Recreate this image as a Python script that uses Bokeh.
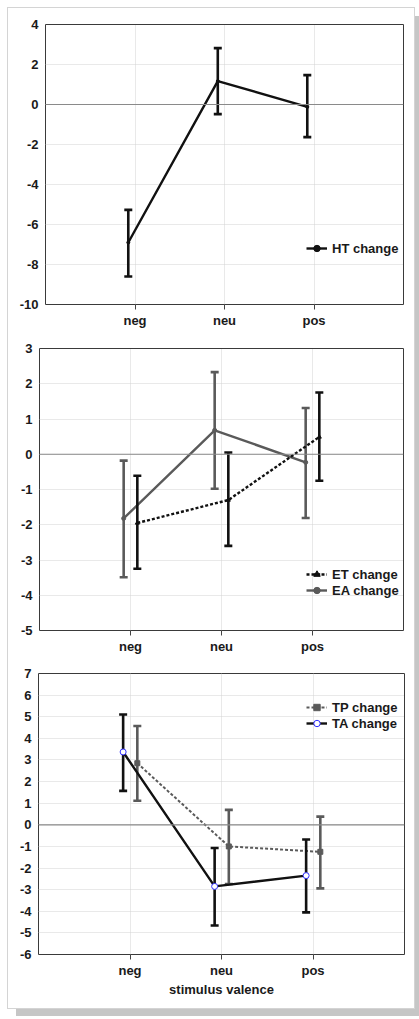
import numpy as np
from bokeh.plotting import figure
from bokeh.models import FixedTicker, Span, Legend, LegendItem
from bokeh.layouts import column
from bokeh.embed import file_html
from bokeh.resources import INLINE

categories = ["neg", "neu", "pos"]

ht_mean = [-6.9, 1.17, -0.12]
ht_low = [-8.6, -0.48, -1.63]
ht_high = [-5.27, 2.82, 1.47]

et_mean = [-1.95, -1.3, 0.49]
et_low = [-3.25, -2.6, -0.75]
et_high = [-0.61, 0.05, 1.75]
ea_mean = [-1.82, 0.68, -0.23]
ea_low = [-3.49, -0.98, -1.81]
ea_high = [-0.18, 2.33, 1.31]

ta_mean = [3.37, -2.85, -2.35]
ta_low = [1.57, -4.66, -4.05]
ta_high = [5.1, -1.07, -0.68]
tp_mean = [2.85, -1.0, -1.25]
tp_low = [1.11, -2.74, -2.94]
tp_high = [4.57, 0.69, 0.38]

y_ticks_1 = [4, 2, 0, -2, -4, -6, -8, -10]
y_ticks_2 = [3, 2, 1, 0, -1, -2, -3, -4, -5]
y_ticks_3 = [7, 6, 5, 4, 3, 2, 1, 0, -1, -2, -3, -4, -5, -6]
x_label_3 = "stimulus valence"
legend_1 = ["HT change"]
legend_2 = ["ET change", "EA change"]
legend_3 = ["TP change", "TA change"]

FONT = "Liberation Sans"
FS = "13px"
BLACK = "#111111"
GRAY = "#5a5a5a"
xpos = np.arange(1, len(categories) + 1, dtype=float)


def make_panel(height, borders, yr, yticks, xlabel=None):
    left, right, top, bottom = borders
    p = figure(width=406, height=height, x_range=(0, 4), y_range=yr,
               output_backend="svg", toolbar_location=None,
               min_border_left=left, min_border_right=right,
               min_border_top=top, min_border_bottom=bottom)
    p.background_fill_color = "white"
    p.border_fill_color = "white"
    p.outline_line_color = "#3a3a3a"
    p.outline_line_width = 1
    xt = FixedTicker(ticks=list(xpos))
    yt = FixedTicker(ticks=yticks)
    p.xaxis.ticker = xt
    p.yaxis.ticker = yt
    p.xaxis.major_label_overrides = {float(v): c for v, c in zip(xpos, categories)}
    p.yaxis.major_label_overrides = {v: str(v) for v in yticks}
    p.xgrid.ticker = xt
    p.ygrid.ticker = yt
    for g in (p.xgrid, p.ygrid):
        g.grid_line_color = "#d2d2d2"
        g.grid_line_dash = "1 1"
        g.grid_line_width = 1
    for ax in (p.xaxis, p.yaxis):
        ax.axis_line_color = None
        ax.minor_tick_line_color = None
        ax.major_label_text_font = FONT
        ax.major_label_text_font_style = "bold"
        ax.major_label_text_font_size = FS
        ax.major_label_text_color = "#1a1a1a"
        ax.major_tick_line_color = "#444444"
    p.yaxis.major_tick_out = 0
    p.yaxis.major_tick_in = 0
    p.yaxis.major_label_standoff = 7
    p.xaxis.major_tick_out = 5
    p.xaxis.major_tick_in = 0
    p.xaxis.major_label_standoff = 3
    if xlabel:
        p.xaxis.axis_label = xlabel
        p.xaxis.axis_label_text_font = FONT
        p.xaxis.axis_label_text_font_style = "bold"
        p.xaxis.axis_label_text_font_size = FS
        p.xaxis.axis_label_text_color = "#1a1a1a"
        p.xaxis.axis_label_standoff = 1
    p.add_layout(Span(location=0, dimension="width", line_color="#8a8a8a", line_width=1.2))
    return p


def series(p, offset, mean, low, high, color, dash="solid", lw=2.4,
           marker="circle", msize=4, mfill=None, mline=None):
    x = xpos + offset
    r_line = p.line(x, mean, line_color=color, line_width=lw, line_dash=dash)
    p.segment(x0=x, y0=low, x1=x, y1=high, line_color=color, line_width=2.6)
    r_cap1 = p.scatter(x, low, marker="dash", size=8, line_color=color, line_width=2.6)
    p.scatter(x, high, marker="dash", size=8, line_color=color, line_width=2.6)
    r_mk = p.scatter(x, mean, marker=marker, size=msize,
                     fill_color=mfill or color, line_color=mline or color, line_width=1)
    return [r_line, r_cap1, r_mk]


def add_legend(p, items, loc):
    lg = Legend(items=items, location=loc, padding=0, margin=0, spacing=0,
                glyph_width=21, glyph_height=16, label_height=16, label_standoff=5,
                border_line_color=None, background_fill_alpha=0,
                label_text_font=FONT, label_text_font_style="bold",
                label_text_font_size=FS, label_text_color="#1a1a1a")
    p.add_layout(lg)


p1 = make_panel(322, (37, 11, 16, 24), (-10, 4), y_ticks_1)
r = series(p1, -0.075, ht_mean, ht_low, ht_high, BLACK, msize=3)
add_legend(p1, [LegendItem(label=legend_1[0], renderers=r)], (261, 48))

p2 = make_panel(330, (31, 11, 18, 30), (-5, 3), y_ticks_2)
r_ea = series(p2, -0.075, ea_mean, ea_low, ea_high, GRAY, lw=2.4, msize=4)
r_et = series(p2, 0.075, et_mean, et_low, et_high, BLACK, dash="3 2", lw=2.4,
              marker="triangle", msize=4)
add_legend(p2, [LegendItem(label=legend_2[0], renderers=r_et),
                LegendItem(label=legend_2[1], renderers=r_ea)], (267, 32))

p3 = make_panel(348, (30, 10, 13, 54), (-6, 7), y_ticks_3, xlabel=x_label_3)
r_tp = series(p3, 0.08, tp_mean, tp_low, tp_high, GRAY, dash="3 2", lw=2.0,
              marker="square", msize=5)
r_ta = series(p3, -0.075, ta_mean, ta_low, ta_high, BLACK, lw=2.4,
              marker="circle", msize=6, mfill="white", mline="#2f2fff")
add_legend(p3, [LegendItem(label=legend_3[0], renderers=r_tp),
                LegendItem(label=legend_3[1], renderers=r_ta)], (268, 223))

layout = column(column(p1), column(p2), column(p3), spacing=0, margin=(8, 0, 0, 8),
                styles={"outline": "1px solid #d4d4d4",
                        "box-shadow": "8px 8px 0 #c6c6c6"})

open("out.html", "w").write(file_html(layout, INLINE))
